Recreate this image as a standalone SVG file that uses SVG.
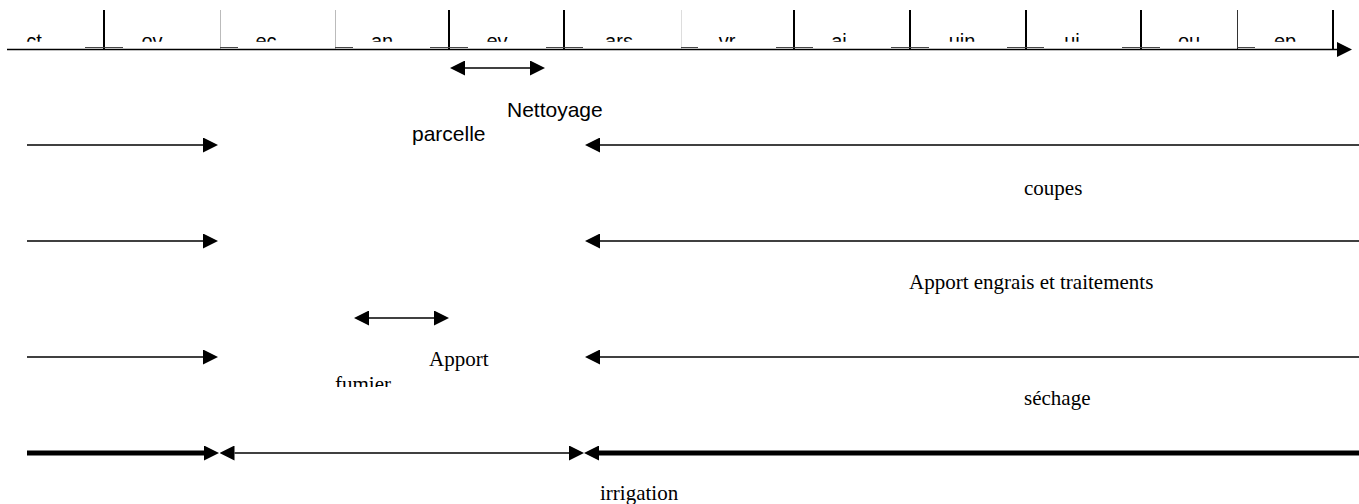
<svg xmlns="http://www.w3.org/2000/svg" width="1359" height="504" viewBox="0 0 1359 504">
  <style>
    .sans { font-family: "Liberation Sans", Arial, sans-serif; font-size: 21px; fill: #000; }
    .serif { font-family: "Liberation Serif", "Times New Roman", serif; font-size: 21px; fill: #000; }
    .month { font-family: "Liberation Sans", Arial, sans-serif; font-size: 20px; fill: #000; text-anchor: middle; }
    .ln { stroke: #000; stroke-width: 1.5; fill: none; }
    .thick { stroke: #000; stroke-width: 5; fill: none; }
    .tickB { stroke: #000; stroke-width: 2; }
    .tickG { stroke: #bbb; stroke-width: 1; }
    .seg { stroke: #444; stroke-width: 1; }
  </style>
  <defs>
    <marker id="ah" viewBox="0 0 15 15" refX="0" refY="7.5" markerWidth="15" markerHeight="15" markerUnits="userSpaceOnUse" orient="auto-start-reverse">
      <path d="M0,0 L15,7.5 L0,15 z" fill="#000"/>
    </marker>
    <clipPath id="monthClip"><rect x="0" y="0" width="1359" height="41.7"/></clipPath>
    <clipPath id="fumierClip"><rect x="0" y="0" width="1359" height="387"/></clipPath>
  </defs>
  <rect width="1359" height="504" fill="#fff"/>

  <g id="timeline">
    <g id="ticks">
      <line class="tickB" x1="104" y1="10" x2="104" y2="49"/>
      <line class="tickG" x1="220.5" y1="10" x2="220.5" y2="49"/>
      <line class="tickG" x1="335.5" y1="10" x2="335.5" y2="49"/>
      <line class="tickB" x1="449" y1="10" x2="449" y2="49"/>
      <line class="tickB" x1="564" y1="10" x2="564" y2="49"/>
      <line class="tickG" x1="681.5" y1="10" x2="681.5" y2="49" style="stroke:#ddd"/>
      <line class="tickB" x1="794" y1="10" x2="794" y2="49"/>
      <line class="tickB" x1="910" y1="10" x2="910" y2="49"/>
      <line class="tickB" x1="1026" y1="10" x2="1026" y2="49"/>
      <line class="tickB" x1="1141" y1="10" x2="1141" y2="49"/>
      <line class="tickG" x1="1237.5" y1="10" x2="1237.5" y2="49" style="stroke:#333"/>
      <line class="tickB" x1="1333" y1="10" x2="1333" y2="49"/>
      <line class="seg" x1="85" y1="47.5" x2="123" y2="47.5"/>
      <line class="seg" x1="220" y1="47.5" x2="238" y2="47.5"/>
      <line class="seg" x1="335" y1="47.5" x2="353" y2="47.5"/>
      <line class="seg" x1="430" y1="47.5" x2="468" y2="47.5"/>
      <line class="seg" x1="546" y1="47.5" x2="583" y2="47.5"/>
      <line class="seg" x1="681" y1="47.5" x2="698" y2="47.5"/>
      <line class="seg" x1="776" y1="47.5" x2="813" y2="47.5"/>
      <line class="seg" x1="891" y1="47.5" x2="929" y2="47.5"/>
      <line class="seg" x1="1007" y1="47.5" x2="1044" y2="47.5"/>
      <line class="seg" x1="1122" y1="47.5" x2="1160" y2="47.5"/>
      <line class="seg" x1="1237" y1="47.5" x2="1255" y2="47.5"/>
    </g>
    <g id="months" clip-path="url(#monthClip)">
      <text class="month" x="34" y="47.5">ct</text>
      <text class="month" x="152" y="47.5">ov</text>
      <text class="month" x="266" y="47.5">ec</text>
      <text class="month" x="382" y="47.5">an</text>
      <text class="month" x="497" y="47.5">ev</text>
      <text class="month" x="619" y="47.5">ars</text>
      <text class="month" x="727" y="47.5">vr</text>
      <text class="month" x="839" y="47.5">ai</text>
      <text class="month" x="962" y="47.5">uin</text>
      <text class="month" x="1072" y="47.5">ui</text>
      <text class="month" x="1189" y="47.5">ou</text>
      <text class="month" x="1285" y="47.5">ep</text>
    </g>
  </g>

  <g id="connectors">
    <line class="ln" x1="7" y1="49.5" x2="1337" y2="49.5" marker-end="url(#ah)"/>
    <line class="ln" x1="465" y1="68" x2="530" y2="68" marker-start="url(#ah)" marker-end="url(#ah)"/>
    <line class="ln" x1="369" y1="318" x2="434" y2="318" marker-start="url(#ah)" marker-end="url(#ah)"/>

    <line class="ln" x1="27" y1="145" x2="203" y2="145" marker-end="url(#ah)"/>
    <line class="ln" x1="1359" y1="145" x2="600" y2="145" marker-end="url(#ah)"/>
    <line class="ln" x1="27" y1="241" x2="203" y2="241" marker-end="url(#ah)"/>
    <line class="ln" x1="1359" y1="241" x2="600" y2="241" marker-end="url(#ah)"/>
    <line class="ln" x1="27" y1="357" x2="203" y2="357" marker-end="url(#ah)"/>
    <line class="ln" x1="1359" y1="357" x2="600" y2="357" marker-end="url(#ah)"/>

    <line class="thick" x1="27" y1="453" x2="204" y2="453" marker-end="url(#ah)"/>
    <line class="ln" x1="234.5" y1="453" x2="569" y2="453" marker-start="url(#ah)" marker-end="url(#ah)"/>
    <line class="thick" x1="1359" y1="453" x2="599" y2="453" marker-end="url(#ah)"/>
  </g>

  <g id="nettoyage-parcelle">
    <text class="sans" x="507" y="117">Nettoyage</text>
    <text class="sans" x="412" y="141">parcelle</text>
  </g>
  <g id="coupes">
    <text class="serif" x="1024" y="195">coupes</text>
  </g>
  <g id="apport-engrais">
    <text class="serif" x="909" y="289">Apport engrais et traitements</text>
  </g>
  <g id="apport-fumier">
    <text class="serif" x="429" y="366">Apport</text>
    <text class="serif" x="335" y="391" clip-path="url(#fumierClip)">fumier</text>
  </g>
  <g id="sechage">
    <text class="serif" x="1024" y="405">séchage</text>
  </g>
  <g id="irrigation">
    <text class="serif" x="600" y="500">irrigation</text>
  </g>
</svg>
